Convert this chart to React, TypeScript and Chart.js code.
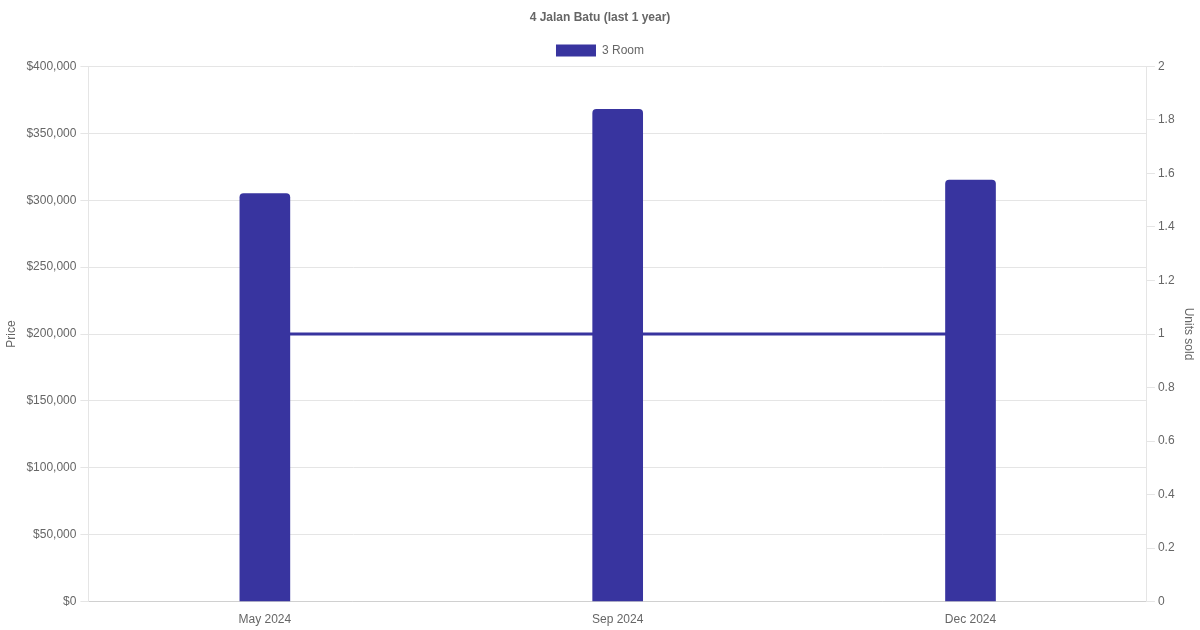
import { useEffect, useRef } from "react"
import { Chart, registerables } from "chart.js"

Chart.register(...registerables)

const BLUE = "#38349f"
const TEXT = "#666666"
const GRID = "#e5e5e5"

const months = ["May 2024", "Sep 2024", "Dec 2024"]
const prices = [305000, 368000, 315000]
const unitsSold = [1, 1, 1]

export default function App() {
  const canvasRef = useRef<HTMLCanvasElement>(null)

  useEffect(() => {
    document.body.style.margin = "0"
    if (!canvasRef.current) return
    const font = { family: "'Liberation Sans', Arial, sans-serif", size: 12 }

    const chart = new Chart(canvasRef.current, {
      type: "bar",
      data: {
        labels: months,
        datasets: [
          {
            type: "bar",
            label: "3 Room",
            data: prices,
            yAxisID: "y",
            backgroundColor: BLUE,
            borderColor: BLUE,
            borderRadius: 4,
            barThickness: 50,
            order: 0,
          },
          {
            type: "line",
            label: "Units sold",
            data: unitsSold,
            yAxisID: "y1",
            borderColor: BLUE,
            backgroundColor: BLUE,
            borderWidth: 3,
            pointRadius: 0,
            order: 1,
          },
        ],
      },
      options: {
        animation: false,
        responsive: false,
        plugins: {
          title: {
            display: true,
            text: "4 Jalan Batu (last 1 year)",
            color: TEXT,
            font: { ...font, weight: "bold" },
          },
          legend: {
            labels: {
              color: TEXT,
              font,
              filter: (item) => item.text === "3 Room",
            },
          },
          tooltip: { enabled: false },
        },
        scales: {
          x: {
            grid: { display: false },
            border: { color: "#d0d0d0" },
            ticks: { color: TEXT, font },
          },
          y: {
            position: "left",
            min: 0,
            max: 400000,
            grid: { color: GRID },
            border: { color: GRID },
            ticks: {
              stepSize: 50000,
              padding: 4,
              color: TEXT,
              font,
              callback: (v) => "$" + Number(v).toLocaleString("en-US"),
            },
            title: { display: true, text: "Price", color: TEXT, font },
          },
          y1: {
            position: "right",
            min: 0,
            max: 2,
            grid: { drawOnChartArea: false, color: GRID },
            border: { color: GRID },
            ticks: {
              stepSize: 0.2,
              color: TEXT,
              font,
              callback: (v) => String(Math.round(Number(v) * 10) / 10),
            },
            title: { display: true, text: "Units sold", color: TEXT, font },
          },
        },
      },
    })

    return () => chart.destroy()
  }, [])

  return (
    <div style={{ width: 1200, height: 630 }}>
      <canvas ref={canvasRef} width={1200} height={630}></canvas>
    </div>
  )
}
